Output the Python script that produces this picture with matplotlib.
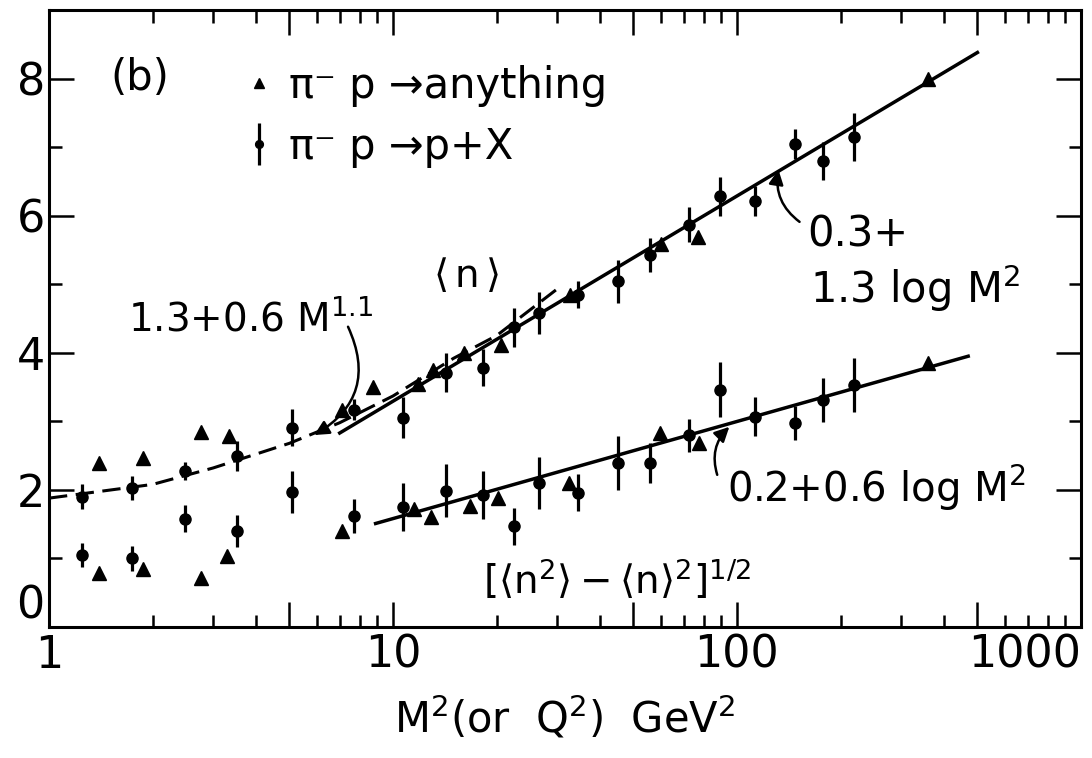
import numpy as np
import matplotlib.pyplot as plt

plt.rcParams['font.family'] = ['DejaVu Sans']
plt.rcParams['mathtext.fontset'] = 'dejavusans'
plt.rcParams['mathtext.default'] = 'regular'

# <n> and dispersion, pi- p -> p + X (circles with error bars)
m2_px = [1.25, 1.74, 2.49, 3.53, 5.08, 7.7, 10.7, 14.3, 18.3, 22.5,
         26.6, 34.5, 45, 56, 72.7, 89, 113, 147, 178, 219]
n_px = [1.90, 2.03, 2.28, 2.50, 2.91, 3.17, 3.05, 3.71, 3.78, 4.37,
        4.58, 4.85, 5.04, 5.43, 5.87, 6.28, 6.22, 7.04, 6.80, 7.15]
n_px_err = [0.18, 0.18, 0.13, 0.22, 0.27, 0.15, 0.30, 0.28, 0.27, 0.28,
            0.31, 0.20, 0.32, 0.25, 0.26, 0.29, 0.22, 0.22, 0.28, 0.35]
d_px = [1.05, 1.00, 1.58, 1.40, 1.97, 1.62, 1.75, 1.99, 1.93, 1.47,
        2.10, 1.96, 2.39, 2.39, 2.80, 3.46, 3.07, 2.98, 3.31, 3.53]
d_px_err = [0.18, 0.18, 0.20, 0.23, 0.30, 0.25, 0.35, 0.39, 0.35, 0.27,
            0.38, 0.27, 0.39, 0.29, 0.24, 0.40, 0.28, 0.25, 0.32, 0.40]

# pi- p -> anything (triangles)
m2_any_n = [1.40, 1.87, 2.76, 3.33, 7.1, 8.75, 11.8, 13.1, 16.1, 20.6, 32.6, 60, 77, 360]
n_any = [2.39, 2.47, 2.85, 2.79, 3.17, 3.50, 3.55, 3.75, 4.00, 4.12, 4.84, 5.58, 5.69, 7.99]
m2_any_d = [1.40, 1.87, 2.76, 3.3, 7.1, 11.5, 12.9, 16.7, 20.2, 32.4, 59.6, 77.7, 358]
d_any = [0.79, 0.85, 0.72, 1.04, 1.40, 1.72, 1.61, 1.77, 1.88, 2.10, 2.83, 2.69, 3.85]

# fitted curves
m2_dash = [1, 2, 3, 5, 7, 10, 15, 20, 30]
n_dash = [1.88, 2.08, 2.32, 2.68, 2.98, 3.37, 3.92, 4.25, 4.93]
m2_fit_n = [7.0, 500]
n_fit = [2.83, 8.38]
m2_fit_d = [8.9, 470]
d_fit = [1.51, 3.95]

x_major = [1, 5, 10, 50, 100, 500, 1000]
x_major_labels = ['1', '', '10', '', '100', '', '1000']
x_minor = [2, 3, 4, 6, 7, 8, 9, 20, 30, 40, 60, 70, 80, 90,
           200, 300, 400, 600, 700, 800, 900]
y_major = [0, 2, 4, 6, 8]
y_minor = [1, 3, 5, 7]

fig = plt.figure(figsize=(10.92, 7.58), dpi=100)
ax = fig.add_axes([0.0449, 0.1728, 0.945, 0.814])

ax.plot(m2_dash, n_dash, color='k', lw=2.2, ls=(0, (6, 2.8)))
ax.plot(m2_fit_n, n_fit, color='k', lw=2.5)
ax.plot(m2_fit_d, d_fit, color='k', lw=2.5)

tri, = ax.plot(m2_any_n, n_any, '^', color='k', ms=10, ls='none')
ax.plot(m2_any_d, d_any, '^', color='k', ms=10, ls='none')
circ = ax.errorbar(m2_px, n_px, yerr=n_px_err, fmt='o', color='k', ms=8,
                   elinewidth=2.3, capsize=0)
ax.errorbar(m2_px, d_px, yerr=d_px_err, fmt='o', color='k', ms=8,
            elinewidth=2.3, capsize=0)

ax.set_xscale('log')
ax.set_xlim(1, 1000)
ax.set_ylim(0, 9)

ax.set_xticks(x_major, x_major_labels)
ax.set_xticks(x_minor, minor=True)
ax.set_xticklabels([], minor=True)
ax.get_xticklabels()[-1].set_horizontalalignment('right')
ax.set_yticks(y_major, [str(v) for v in y_major])
ax.set_yticks(y_minor, minor=True)
ax.get_yticklabels()[0].set_verticalalignment('bottom')

ax.tick_params(which='both', direction='in', top=True, right=True, width=1.8,
               labelsize=32)
ax.tick_params(which='major', length=18)
ax.tick_params(which='minor', length=9)
ax.tick_params(axis='y', pad=3)
ax.tick_params(axis='x', pad=5)
for s in ax.spines.values():
    s.set_linewidth(2.2)

ax.set_xlabel('M$^2$(or  Q$^2$)  GeV$^2$', fontsize=30, labelpad=12)

ax.legend([tri, circ], ['π⁻ p →anything', 'π⁻ p →p+X'], loc='upper left',
          bbox_to_anchor=(0.156, 0.972), frameon=False, fontsize=30,
          handlelength=0.55, handletextpad=0.45, markerscale=0.7,
          labelspacing=0.45)

ax.text(0.059, 0.89, '(b)', transform=ax.transAxes, fontsize=30, va='center')
ax.text(0.404, 0.569, r'$\langle\,n\,\rangle$', transform=ax.transAxes,
        fontsize=28, ha='center', va='center')
ax.text(0.0766, 0.48, r'1.3+0.6 M$^{1.1}$', transform=ax.transAxes,
        fontsize=28, va='baseline')
ax.text(0.735, 0.616, '0.3+', transform=ax.transAxes, fontsize=30, va='baseline')
ax.text(0.737, 0.525, '1.3 log M$^2$', transform=ax.transAxes, fontsize=30,
        va='baseline')
ax.text(0.657, 0.203, '0.2+0.6 log M$^2$', transform=ax.transAxes, fontsize=29,
        va='baseline')
ax.text(0.4205, 0.04, r'$[\langle n^2\rangle - \langle n\rangle^2]^{1/2}$',
        transform=ax.transAxes, fontsize=28, va='bottom')

arrow = dict(arrowstyle='-|>', color='k', lw=1.8, mutation_scale=22,
             shrinkA=0, shrinkB=0)
ax.annotate('', xy=(5.9, 2.8), xytext=(7.4, 4.38),
            arrowprops=dict(arrow, connectionstyle='arc3,rad=-0.45'))
ax.annotate('', xy=(132, 6.67), xytext=(152, 5.91),
            arrowprops=dict(arrow, connectionstyle='arc3,rad=-0.3'))
ax.annotate('', xy=(95, 2.92), xytext=(87.6, 2.22),
            arrowprops=dict(arrow, connectionstyle='arc3,rad=-0.3'))

fig.savefig('out.png', dpi=100)
